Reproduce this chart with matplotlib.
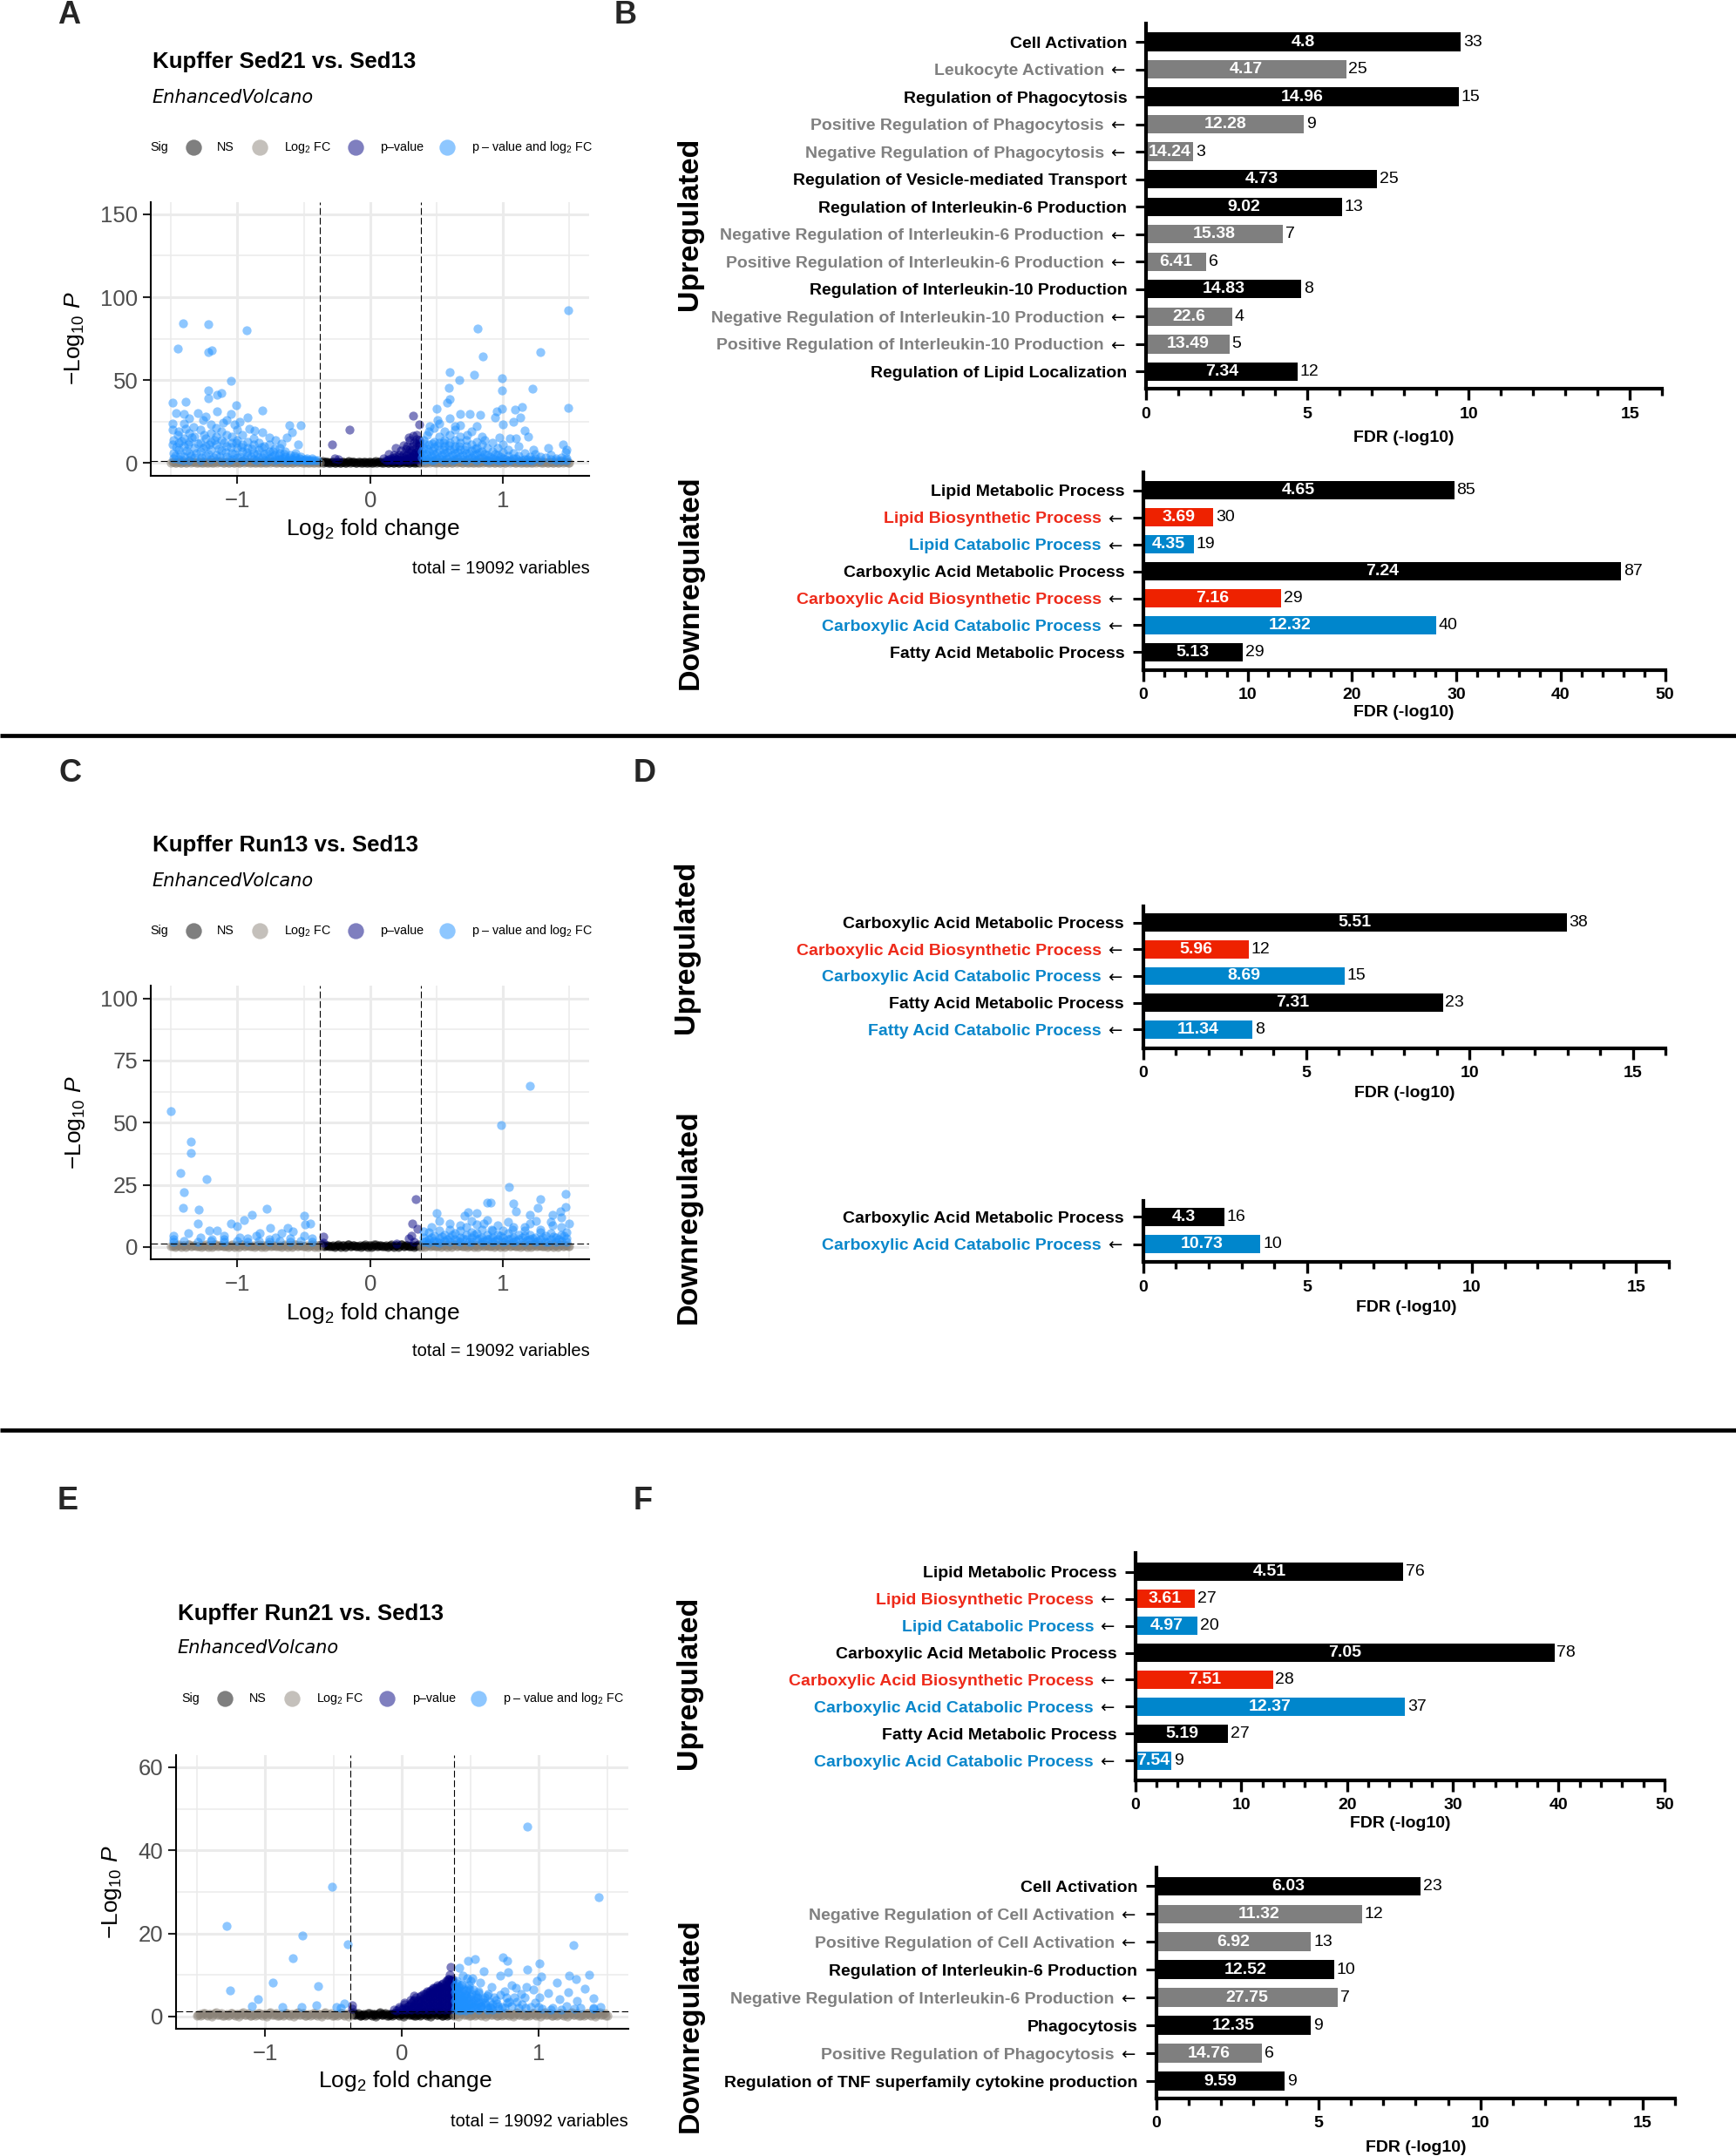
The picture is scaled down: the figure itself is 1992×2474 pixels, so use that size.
import numpy as np
import matplotlib
matplotlib.use("Agg")
import matplotlib.pyplot as plt
from matplotlib.ticker import MultipleLocator

plt.rcParams['font.family'] = ['Liberation Sans', 'DejaVu Sans']
plt.rcParams['mathtext.fontset'] = 'custom'
plt.rcParams['mathtext.rm'] = 'Liberation Sans'
plt.rcParams['mathtext.it'] = 'Liberation Sans:italic'
plt.rcParams['mathtext.bf'] = 'Liberation Sans:bold'

# ======================= GO enrichment bar data =======================
# bar length = FDR (-log10); inner label = fold enrichment; outer label = gene count
B_up_terms = ["Cell Activation", "Leukocyte Activation", "Regulation of Phagocytosis",
              "Positive Regulation of Phagocytosis", "Negative Regulation of Phagocytosis",
              "Regulation of Vesicle-mediated Transport", "Regulation of Interleukin-6 Production",
              "Negative Regulation of Interleukin-6 Production", "Positive Regulation of Interleukin-6 Production",
              "Regulation of Interleukin-10 Production", "Negative Regulation of Interleukin-10 Production",
              "Positive Regulation of Interleukin-10 Production", "Regulation of Lipid Localization"]
B_up_fdr = [9.76, 6.20, 9.70, 4.90, 1.47, 7.17, 6.07, 4.25, 1.86, 4.82, 2.68, 2.59, 4.69]
B_up_fold = ["4.8", "4.17", "14.96", "12.28", "14.24", "4.73", "9.02", "15.38", "6.41", "14.83", "22.6", "13.49", "7.34"]
B_up_genes = [33, 25, 15, 9, 3, 25, 13, 7, 6, 8, 4, 5, 12]
B_up_kind = ["parent", "child", "parent", "child", "child", "parent", "parent", "child", "child",
             "parent", "child", "child", "parent"]

B_dn_terms = ["Lipid Metabolic Process", "Lipid Biosynthetic Process", "Lipid Catabolic Process",
              "Carboxylic Acid Metabolic Process", "Carboxylic Acid Biosynthetic Process",
              "Carboxylic Acid Catabolic Process", "Fatty Acid Metabolic Process"]
B_dn_fdr = [29.8, 6.73, 4.87, 45.8, 13.2, 28.07, 9.53]
B_dn_fold = ["4.65", "3.69", "4.35", "7.24", "7.16", "12.32", "5.13"]
B_dn_genes = [85, 30, 19, 87, 29, 40, 29]
B_dn_kind = ["parent", "biosyn", "catab", "parent", "biosyn", "catab", "parent"]

D_up_terms = ["Carboxylic Acid Metabolic Process", "Carboxylic Acid Biosynthetic Process",
              "Carboxylic Acid Catabolic Process", "Fatty Acid Metabolic Process", "Fatty Acid Catabolic Process"]
D_up_fdr = [12.97, 3.23, 6.17, 9.18, 3.35]
D_up_fold = ["5.51", "5.96", "8.69", "7.31", "11.34"]
D_up_genes = [38, 12, 15, 23, 8]
D_up_kind = ["parent", "biosyn", "catab", "parent", "catab"]

D_dn_terms = ["Carboxylic Acid Metabolic Process", "Carboxylic Acid Catabolic Process"]
D_dn_fdr = [2.47, 3.57]
D_dn_fold = ["4.3", "10.73"]
D_dn_genes = [16, 10]
D_dn_kind = ["parent", "catab"]

F_up_terms = ["Lipid Metabolic Process", "Lipid Biosynthetic Process", "Lipid Catabolic Process",
              "Carboxylic Acid Metabolic Process", "Carboxylic Acid Biosynthetic Process",
              "Carboxylic Acid Catabolic Process", "Fatty Acid Metabolic Process",
              "Carboxylic Acid Catabolic Process"]
F_up_fdr = [25.3, 5.6, 5.86, 39.6, 13.0, 25.5, 8.75, 3.42]
F_up_fold = ["4.51", "3.61", "4.97", "7.05", "7.51", "12.37", "5.19", "7.54"]
F_up_genes = [76, 27, 20, 78, 28, 37, 27, 9]
F_up_kind = ["parent", "biosyn", "catab", "parent", "biosyn", "catab", "parent", "catab"]

F_dn_terms = ["Cell Activation", "Negative Regulation of Cell Activation", "Positive Regulation of Cell Activation",
              "Regulation of Interleukin-6 Production", "Negative Regulation of Interleukin-6 Production",
              "Phagocytosis", "Positive Regulation of Phagocytosis",
              "Regulation of TNF superfamily cytokine production"]
F_dn_fdr = [8.15, 6.34, 4.77, 5.48, 5.59, 4.77, 3.25, 3.96]
F_dn_fold = ["6.03", "11.32", "6.92", "12.52", "27.75", "12.35", "14.76", "9.59"]
F_dn_genes = [23, 12, 13, 10, 7, 9, 6, 9]
F_dn_kind = ["parent", "child", "child", "parent", "child", "parent", "child", "parent"]

BAR_COL = {"parent": "#000000", "child": "#7F7F7F", "biosyn": "#EE2200", "catab": "#0086CC"}
TXT_COL = {"parent": "#000000", "child": "#808080", "biosyn": "#EE2A1A", "catab": "#0A87CB"}

# ======================= volcano data (log2FC, -log10 P) =======================
fc_cut = 0.38
p_cut = 1.3
volcano_titles = ["Kupffer Sed21 vs. Sed13", "Kupffer Run13 vs. Sed13", "Kupffer Run21 vs. Sed13"]
caption = "total = 19092 variables"

# non-significant genes forming the band along the x axis (shared by the three comparisons)
band_x = [-1.50, -1.48, -1.46, -1.44, -1.42, -1.40, -1.38, -1.36, -1.34, -1.32, -1.30, -1.28, -1.26, -1.24,
          -1.22, -1.20, -1.18, -1.16, -1.14, -1.12, -1.10, -1.08, -1.06, -1.04, -1.02, -1.00, -0.98, -0.96,
          -0.94, -0.92, -0.90, -0.88, -0.86, -0.84, -0.82, -0.80, -0.78, -0.76, -0.74, -0.72, -0.70, -0.68,
          -0.66, -0.64, -0.62, -0.60, -0.58, -0.56, -0.54, -0.52, -0.50, -0.48, -0.46, -0.44, -0.42, -0.40,
          -0.38, -0.36, -0.34, -0.32, -0.30, -0.28, -0.26, -0.24, -0.22, -0.20, -0.18, -0.16, -0.14, -0.12,
          -0.10, -0.08, -0.06, -0.04, -0.02, 0.00, 0.02, 0.04, 0.06, 0.08, 0.10, 0.12, 0.14, 0.16, 0.18,
          0.20, 0.22, 0.24, 0.26, 0.28, 0.30, 0.32, 0.34, 0.36, 0.38, 0.40, 0.42, 0.44, 0.46, 0.48, 0.50,
          0.52, 0.54, 0.56, 0.58, 0.60, 0.62, 0.64, 0.66, 0.68, 0.70, 0.72, 0.74, 0.76, 0.78, 0.80, 0.82,
          0.84, 0.86, 0.88, 0.90, 0.92, 0.94, 0.96, 0.98, 1.00, 1.02, 1.04, 1.06, 1.08, 1.10, 1.12, 1.14,
          1.16, 1.18, 1.20, 1.22, 1.24, 1.26, 1.28, 1.30, 1.32, 1.34, 1.36, 1.38, 1.40, 1.42, 1.44, 1.46,
          1.48, 1.50,
          -1.49, -1.47, -1.45, -1.43, -1.41, -1.39, -1.37, -1.35, -1.33, -1.31, -1.29, -1.27, -1.25, -1.23,
          -1.21, -1.19, -1.17, -1.15, -1.13, -1.11, -1.09, -1.07, -1.05, -1.03, -1.01, -0.99, -0.97, -0.95,
          -0.93, -0.91, -0.89, -0.87, -0.85, -0.83, -0.81, -0.79, -0.77, -0.75, -0.73, -0.71, -0.69, -0.67,
          -0.65, -0.63, -0.61, -0.59, -0.57, -0.55, -0.53, -0.51, -0.49, -0.47, -0.45, -0.43, -0.41, -0.39,
          -0.37, -0.35, -0.33, -0.31, -0.29, -0.27, -0.25, -0.23, -0.21, -0.19, -0.17, -0.15, -0.13, -0.11,
          -0.09, -0.07, -0.05, -0.03, -0.01, 0.01, 0.03, 0.05, 0.07, 0.09, 0.11, 0.13, 0.15, 0.17, 0.19,
          0.21, 0.23, 0.25, 0.27, 0.29, 0.31, 0.33, 0.35, 0.37, 0.39, 0.41, 0.43, 0.45, 0.47, 0.49, 0.51,
          0.53, 0.55, 0.57, 0.59, 0.61, 0.63, 0.65, 0.67, 0.69, 0.71, 0.73, 0.75, 0.77, 0.79, 0.81, 0.83,
          0.85, 0.87, 0.89, 0.91, 0.93, 0.95, 0.97, 0.99, 1.01, 1.03, 1.05, 1.07, 1.09, 1.11, 1.13, 1.15,
          1.17, 1.19, 1.21, 1.23, 1.25, 1.27, 1.29, 1.31, 1.33, 1.35, 1.37, 1.39, 1.41, 1.43, 1.45, 1.47,
          1.49]
band_y = [0.2, 0.7, 0.4, 0.9, 0.1, 0.6, 0.3, 1.0, 0.5, 0.8, 0.2, 0.6, 0.4, 0.9, 0.1, 0.7, 0.3, 1.0, 0.5,
          0.8, 0.2, 0.7, 0.4, 0.9, 0.1, 0.6, 0.3, 1.0, 0.5, 0.8, 0.2, 0.6, 0.4, 0.9, 0.1, 0.7, 0.3, 1.0,
          0.5, 0.8, 0.2, 0.7, 0.4, 0.9, 0.1, 0.6, 0.3, 1.0, 0.5, 0.8, 0.2, 0.6, 0.4, 0.9, 0.1, 0.7, 0.3,
          1.0, 0.5, 0.8, 0.2, 0.7, 0.4, 0.9, 0.1, 0.6, 0.3, 1.0, 0.5, 0.8, 0.2, 0.6, 0.4, 0.9, 0.1, 0.7,
          0.3, 1.0, 0.5, 0.8, 0.2, 0.7, 0.4, 0.9, 0.1, 0.6, 0.3, 1.0, 0.5, 0.8, 0.2, 0.6, 0.4, 0.9, 0.1,
          0.7, 0.3, 1.0, 0.5, 0.8, 0.2, 0.7, 0.4, 0.9, 0.1, 0.6, 0.3, 1.0, 0.5, 0.8, 0.2, 0.6, 0.4, 0.9,
          0.1, 0.7, 0.3, 1.0, 0.5, 0.8, 0.2, 0.7, 0.4, 0.9, 0.1, 0.6, 0.3, 1.0, 0.5, 0.8, 0.2, 0.6, 0.4,
          0.9, 0.1, 0.7, 0.3, 1.0, 0.5, 0.8, 0.2, 0.7, 0.4, 0.9, 0.1, 0.6, 0.3, 1.0, 0.5, 0.8, 0.2,
          0.5, 0.1, 0.8, 0.3, 0.6, 0.0, 0.9, 0.4, 0.7, 0.2, 0.5, 0.1, 0.8, 0.3, 0.6, 0.0, 0.9, 0.4, 0.7,
          0.2, 0.5, 0.1, 0.8, 0.3, 0.6, 0.0, 0.9, 0.4, 0.7, 0.2, 0.5, 0.1, 0.8, 0.3, 0.6, 0.0, 0.9, 0.4,
          0.7, 0.2, 0.5, 0.1, 0.8, 0.3, 0.6, 0.0, 0.9, 0.4, 0.7, 0.2, 0.5, 0.1, 0.8, 0.3, 0.6, 0.0, 0.9,
          0.4, 0.7, 0.2, 0.5, 0.1, 0.8, 0.3, 0.6, 0.0, 0.9, 0.4, 0.7, 0.2, 0.5, 0.1, 0.8, 0.3, 0.6, 0.0,
          0.9, 0.4, 0.7, 0.2, 0.5, 0.1, 0.8, 0.3, 0.6, 0.0, 0.9, 0.4, 0.7, 0.2, 0.5, 0.1, 0.8, 0.3, 0.6,
          0.0, 0.9, 0.4, 0.7, 0.2, 0.5, 0.1, 0.8, 0.3, 0.6, 0.0, 0.9, 0.4, 0.7, 0.2, 0.5, 0.1, 0.8, 0.3,
          0.6, 0.0, 0.9, 0.4, 0.7, 0.2, 0.5, 0.1, 0.8, 0.3, 0.6, 0.0, 0.9, 0.4, 0.7, 0.2, 0.5, 0.1, 0.8,
          0.3, 0.6, 0.0, 0.9, 0.4, 0.7, 0.2, 0.5, 0.1, 0.8, 0.3, 0.6, 0.0, 0.9, 0.4, 0.7, 0.2]

A_pts = [
    (-1.41, 84.3), (-1.22, 83.6), (-0.93, 80.3), (-1.45, 69.2), (-1.22, 66.7), (-1.19, 68.1), (-1.05, 49.6),
    (-1.22, 44.0), (-1.22, 38.9), (-1.15, 41.4), (-1.12, 42.1), (-1.49, 36.6), (-1.39, 36.8), (-1.46, 29.9),
    (-1.40, 29.4), (-1.30, 30.3), (-1.01, 35.0), (-0.81, 31.5), (-1.15, 31.2), (-1.05, 29.4), (-0.92, 27.3),
    (-0.61, 22.7), (-0.52, 22.7), (-0.59, 18.8), (-0.63, 15.3), (-0.54, 11.4), (-1.49, 23.8), (-1.49, 20.1),
    (-1.45, 17.1), (-1.49, 11.0), (-1.39, 20.6), (-1.33, 21.5), (-1.26, 25.9), (-1.20, 23.2), (-1.11, 24.1),
    (-1.02, 23.2), (-0.98, 25.0), (-0.91, 20.6), (-0.87, 19.7), (-0.81, 18.8), (-0.76, 15.3), (-0.71, 13.6),
    (-0.67, 11.8),
    (-1.48, 3.0), (-1.48, 6.0), (-1.48, 14.0), (-1.44, 2.5), (-1.44, 8.0), (-1.44, 12.0), (-1.44, 19.0),
    (-1.40, 4.0), (-1.40, 10.0), (-1.40, 15.0), (-1.40, 24.0), (-1.36, 2.0), (-1.36, 6.0), (-1.36, 13.0),
    (-1.36, 18.0), (-1.36, 27.0), (-1.32, 3.5), (-1.32, 9.0), (-1.32, 16.0), (-1.28, 2.0), (-1.28, 7.0),
    (-1.28, 12.0), (-1.28, 20.0), (-1.24, 4.5), (-1.24, 10.0), (-1.24, 15.0), (-1.24, 28.0), (-1.20, 2.5),
    (-1.20, 8.0), (-1.20, 13.0), (-1.20, 18.0), (-1.16, 5.0), (-1.16, 11.0), (-1.16, 16.0), (-1.16, 21.0),
    (-1.12, 2.0), (-1.12, 7.5), (-1.12, 14.0), (-1.12, 19.0), (-1.08, 4.0), (-1.08, 10.0), (-1.08, 17.0),
    (-1.08, 26.0), (-1.04, 2.5), (-1.04, 6.0), (-1.04, 12.0), (-1.04, 16.0), (-1.00, 3.5), (-1.00, 9.0),
    (-1.00, 14.0), (-1.00, 20.0), (-0.96, 2.0), (-0.96, 7.0), (-0.96, 11.0), (-0.96, 17.0), (-0.92, 4.5),
    (-0.92, 9.0), (-0.92, 13.0), (-0.88, 2.5), (-0.88, 6.0), (-0.88, 11.0), (-0.88, 15.0), (-0.84, 3.5),
    (-0.84, 8.0), (-0.84, 12.0), (-0.80, 2.0), (-0.80, 5.5), (-0.80, 10.0), (-0.76, 3.0), (-0.76, 7.0),
    (-0.76, 11.0), (-0.72, 2.0), (-0.72, 5.0), (-0.72, 8.5), (-0.68, 2.5), (-0.68, 6.0), (-0.68, 9.0),
    (-0.64, 2.0), (-0.64, 4.0), (-0.64, 7.0), (-0.60, 2.5), (-0.60, 5.0), (-0.56, 2.0), (-0.56, 3.5),
    (-0.56, 6.0), (-0.52, 2.2), (-0.52, 4.0), (-0.48, 1.8), (-0.48, 3.0), (-0.44, 2.0), (-0.44, 2.8),
    (-0.40, 1.6),
    (-1.47, 4.5), (-1.46, 9.5), (-1.43, 5.5), (-1.42, 13.5), (-1.41, 2.0), (-1.38, 7.5), (-1.37, 11.0),
    (-1.35, 4.5), (-1.34, 15.5), (-1.31, 6.0), (-1.30, 11.5), (-1.27, 3.5), (-1.26, 9.0), (-1.25, 17.0),
    (-1.22, 5.5), (-1.21, 11.0), (-1.18, 3.5), (-1.17, 14.0), (-1.14, 8.5), (-1.13, 4.0), (-1.10, 12.0),
    (-1.09, 6.5), (-1.06, 2.0), (-1.05, 9.5), (-1.02, 5.5), (-1.01, 12.5), (-0.98, 4.0), (-0.97, 9.5),
    (-0.94, 2.5), (-0.93, 6.5), (-0.90, 4.0), (-0.89, 8.5), (-0.86, 2.0), (-0.85, 5.5), (-0.82, 9.5),
    (-0.81, 3.5), (-0.78, 6.0), (-0.77, 2.0), (-0.74, 4.0), (-0.73, 7.0), (-0.70, 2.5), (-0.69, 4.5),
    (-0.66, 3.0), (-0.65, 5.5), (-0.62, 2.0), (-0.61, 3.5), (-0.58, 2.5), (-0.57, 4.5), (-0.54, 2.0),
    (-0.53, 3.0), (-0.50, 1.8), (-0.49, 2.5), (-0.46, 1.6), (-0.42, 1.8),
    (0.81, 81.0), (0.85, 64.3), (1.28, 66.9), (1.49, 92.4), (0.60, 54.9), (0.67, 50.0), (0.78, 53.3),
    (0.99, 51.4), (0.99, 43.8), (1.22, 44.9), (0.59, 45.2), (0.60, 38.6), (0.58, 36.4), (1.49, 33.3),
    (0.50, 32.9), (0.68, 29.8), (0.75, 29.4), (0.83, 29.0), (0.95, 31.2), (0.99, 32.6), (1.09, 32.4),
    (1.14, 33.8), (1.13, 27.3), (1.08, 25.0), (1.00, 23.2), (0.94, 27.3), (1.16, 19.7), (1.19, 15.7),
    (1.45, 11.4), (1.47, 6.5), (1.34, 9.2), (1.23, 8.3), (0.97, 15.3), (1.05, 15.0), (1.10, 15.0),
    (0.86, 13.6), (0.73, 17.1), (0.64, 22.4), (0.51, 25.9), (0.45, 22.4), (0.43, 17.1),
    (0.40, 2.0), (0.40, 5.0), (0.40, 9.0), (0.40, 14.0), (0.44, 3.0), (0.44, 7.0), (0.44, 11.0), (0.44, 19.0),
    (0.48, 2.0), (0.48, 5.5), (0.48, 9.5), (0.48, 13.0), (0.48, 21.0), (0.52, 3.5), (0.52, 8.0), (0.52, 12.0),
    (0.52, 16.0), (0.52, 24.0), (0.56, 2.0), (0.56, 6.0), (0.56, 10.0), (0.56, 14.0), (0.56, 19.0),
    (0.60, 4.0), (0.60, 8.0), (0.60, 12.0), (0.60, 17.0), (0.60, 27.0), (0.64, 2.5), (0.64, 6.0),
    (0.64, 10.0), (0.64, 14.0), (0.64, 20.0), (0.68, 4.0), (0.68, 8.0), (0.68, 12.0), (0.68, 16.0),
    (0.68, 23.0), (0.72, 2.0), (0.72, 6.0), (0.72, 10.0), (0.72, 14.0), (0.76, 3.5), (0.76, 7.5),
    (0.76, 11.0), (0.76, 19.0), (0.80, 2.0), (0.80, 5.5), (0.80, 9.0), (0.80, 13.0), (0.80, 22.0),
    (0.84, 3.5), (0.84, 7.0), (0.84, 11.0), (0.84, 16.0), (0.88, 2.0), (0.88, 5.0), (0.88, 9.0),
    (0.92, 3.0), (0.92, 7.0), (0.92, 12.0), (0.96, 2.0), (0.96, 5.0), (0.96, 9.0), (1.00, 3.0),
    (1.00, 6.5), (1.00, 11.0), (1.04, 2.0), (1.04, 4.5), (1.04, 8.0), (1.08, 3.0), (1.08, 6.0),
    (1.12, 2.0), (1.12, 4.5), (1.12, 10.0), (1.16, 2.5), (1.16, 6.0), (1.20, 2.0), (1.20, 4.0),
    (1.24, 3.0), (1.24, 5.5), (1.28, 2.0), (1.28, 4.0), (1.32, 3.5), (1.36, 2.2), (1.36, 5.0),
    (1.40, 1.8), (1.40, 3.0), (1.44, 2.0), (1.44, 3.5), (1.48, 1.8), (1.48, 3.0), (1.48, 8.0),
    (0.39, 3.5), (0.39, 7.0), (0.41, 11.5), (0.42, 2.5), (0.42, 5.5), (0.43, 8.5), (0.46, 2.0), (0.46, 4.5),
    (0.47, 7.5), (0.47, 11.5), (0.50, 3.0), (0.50, 6.0), (0.51, 10.5), (0.54, 2.5), (0.54, 5.0), (0.55, 8.0),
    (0.55, 12.5), (0.58, 3.0), (0.58, 6.5), (0.59, 10.5), (0.62, 2.0), (0.62, 5.0), (0.63, 8.5), (0.66, 3.0),
    (0.66, 6.5), (0.67, 10.0), (0.70, 2.5), (0.70, 5.0), (0.71, 8.0), (0.74, 3.0), (0.74, 6.0), (0.78, 2.5),
    (0.78, 5.0), (0.79, 8.5), (0.82, 3.0), (0.82, 6.5), (0.86, 2.5), (0.86, 5.5), (0.90, 2.0), (0.90, 4.0),
    (0.94, 2.5), (0.94, 5.5), (0.98, 2.0), (0.98, 4.0), (1.02, 2.5), (1.06, 2.0), (1.10, 3.0), (1.14, 2.0),
    (1.18, 2.5), (1.22, 2.0),
    (0.32, 28.5), (0.37, 23.2), (-0.155, 20.1), (-0.29, 11.3), (0.29, 15.3), (0.35, 17.1), (0.30, 13.6),
    (0.25, 10.9), (0.195, 9.2), (0.14, 5.6), (0.23, 7.4), (0.315, 10.0), (0.35, 11.8), (0.36, 8.3),
    (0.29, 6.5), (0.33, 4.8), (0.18, 4.8), (-0.265, 3.0), (-0.24, 2.1), (0.10, 3.0), (0.12, 2.0),
    (0.20, 2.5), (0.26, 3.5), (0.30, 2.0), (0.36, 3.0), (0.34, 6.5), (0.22, 5.0), (0.27, 8.5),
    (0.16, 2.0), (0.20, 3.8), (0.24, 2.0), (0.25, 5.5), (0.28, 3.0), (0.28, 10.0), (0.31, 4.0), (0.31, 7.5),
    (0.33, 12.5), (0.34, 2.5), (0.35, 5.0), (0.37, 6.0), (0.37, 10.5), (0.37, 14.0), (0.32, 16.5),
    (0.22, 2.0), (0.14, 2.2), (0.18, 3.2),
    (0.36, 1.8), (0.36, 4.2), (0.36, 7.0), (0.34, 3.5), (0.34, 9.0), (0.32, 2.2), (0.32, 5.5), (0.30, 3.3),
    (0.30, 8.2), (0.28, 1.8), (0.28, 5.0), (0.26, 2.3), (0.24, 3.6), (0.22, 1.8), (0.20, 2.2), (0.18, 1.8),
    (0.16, 3.0), (0.13, 1.8), (0.37, 12.2), (0.35, 14.5)]

C_pts = [
    (-1.50, 54.7), (-1.35, 42.4), (-1.35, 37.7), (-1.43, 29.9), (-1.23, 27.4), (-1.40, 21.9), (-1.41, 15.7),
    (-1.29, 15.1), (-1.30, 9.3), (-1.48, 4.7), (-1.37, 5.5), (-1.28, 3.9), (-0.89, 12.8), (-0.78, 15.3),
    (-0.50, 12.5), (-0.95, 10.7), (-1.05, 9.6), (-1.00, 8.4), (-1.15, 6.7), (-1.21, 6.8), (-0.49, 9.1),
    (-0.45, 9.3), (-0.62, 7.6), (-0.75, 7.6), (-0.58, 6.3), (-0.67, 5.5), (-0.83, 5.5), (-0.86, 4.4),
    (-0.98, 3.9), (-1.10, 4.4), (-1.19, 3.1), (-0.50, 4.7), (-0.44, 3.4), (-0.71, 3.9), (-1.48, 2.0),
    (-1.48, 3.0), (-1.40, 2.5), (-1.30, 2.0), (-1.20, 2.5), (-1.10, 2.0), (-1.10, 3.0), (-1.00, 2.5),
    (-0.92, 2.0), (-0.92, 3.5), (-0.84, 2.5), (-0.76, 2.0), (-0.76, 3.0), (-0.68, 2.5), (-0.60, 2.0),
    (-0.60, 3.5), (-0.52, 2.5), (-0.44, 2.0),
    (1.20, 64.8), (0.985, 49.0), (1.045, 24.0), (1.47, 21.3), (1.28, 19.2), (1.075, 17.5), (0.88, 18.0),
    (0.91, 18.0), (1.47, 16.2), (1.26, 15.7), (0.50, 13.6), (0.735, 14.1), (0.80, 13.8), (0.71, 12.5),
    (1.10, 14.4), (1.20, 12.8), (1.37, 12.8), (1.44, 12.0), (1.497, 9.3), (1.43, 14.4), (1.25, 10.6),
    (1.04, 10.1), (0.96, 8.8), (0.915, 7.1), (0.855, 9.6), (0.765, 10.6), (0.675, 8.8), (0.60, 9.6),
    (0.52, 10.6), (0.46, 8.0), (0.40, 6.3), (1.37, 8.8), (1.28, 7.1), (1.16, 8.0), (1.07, 7.1),
    (0.40, 2.0), (0.40, 4.0), (0.44, 1.8), (0.44, 3.2), (0.44, 6.0), (0.48, 2.5), (0.48, 4.5), (0.52, 1.8),
    (0.52, 3.5), (0.52, 6.5), (0.56, 2.5), (0.56, 5.0), (0.60, 2.0), (0.60, 4.0), (0.60, 7.0), (0.64, 3.0),
    (0.64, 5.5), (0.68, 2.0), (0.68, 4.0), (0.68, 6.5), (0.72, 3.0), (0.72, 5.0), (0.72, 8.0), (0.76, 2.0),
    (0.76, 4.0), (0.76, 6.0), (0.80, 3.0), (0.80, 5.5), (0.80, 9.0), (0.84, 2.0), (0.84, 4.0), (0.84, 7.0),
    (0.88, 3.0), (0.88, 5.0), (0.88, 11.0), (0.92, 2.0), (0.92, 4.0), (0.92, 6.5), (0.96, 3.0), (0.96, 5.0),
    (1.00, 2.0), (1.00, 4.0), (1.00, 6.5), (1.04, 3.0), (1.04, 5.5), (1.08, 2.0), (1.08, 4.0), (1.08, 8.0),
    (1.12, 3.0), (1.12, 5.0), (1.16, 2.0), (1.16, 4.5), (1.16, 6.5), (1.20, 3.0), (1.20, 5.0), (1.20, 9.5),
    (1.24, 2.0), (1.24, 4.0), (1.28, 3.0), (1.28, 6.0), (1.32, 2.0), (1.32, 4.5), (1.36, 3.0), (1.36, 5.5),
    (1.36, 10.0), (1.40, 2.0), (1.40, 4.0), (1.44, 2.5), (1.44, 5.0), (1.44, 8.0), (1.48, 2.0), (1.48, 3.5),
    (1.48, 6.0), (0.42, 2.6), (0.46, 3.8), (0.50, 2.2), (0.54, 4.2), (0.58, 3.0), (0.62, 5.0), (0.66, 2.4),
    (0.70, 3.6), (0.74, 2.2), (0.78, 5.0), (0.82, 3.4), (0.86, 2.4), (0.90, 3.6), (0.94, 2.6), (0.98, 4.6),
    (1.02, 2.4), (1.06, 3.6), (1.10, 2.4), (1.14, 3.8), (1.18, 2.8), (1.22, 3.4), (1.26, 2.6), (1.30, 3.8),
    (1.34, 2.2), (1.38, 4.2), (1.42, 3.0), (1.46, 4.4),
    (0.343, 19.2), (0.319, 9.3), (0.358, 7.5), (0.313, 4.4), (0.29, 3.4), (-0.355, 4.2), (-0.35, 1.8),
    (0.20, 1.5), (0.33, 2.0)]

E_pts = [
    (-1.281, 21.8), (-1.257, 6.3), (-0.725, 19.4), (-0.80, 14.1), (-0.508, 31.3), (-0.394, 17.3),
    (-0.941, 8.2), (-0.61, 7.3), (-1.053, 4.1), (-1.095, 2.5), (-0.872, 2.2), (-0.731, 2.2), (-0.626, 2.7),
    (-0.481, 2.2), (-0.421, 3.1), (-0.45, 2.0),
    (0.917, 45.8), (1.434, 28.7), (1.25, 17.2), (0.734, 14.2), (0.766, 13.5), (0.479, 13.5), (0.53, 13.75),
    (1.003, 12.8), (0.914, 11.3), (0.598, 10.8), (0.42, 11.8), (0.774, 10.6), (0.717, 9.9), (1.22, 9.9),
    (1.368, 10.0), (1.014, 9.6), (1.268, 8.9), (1.13, 8.2), (0.982, 8.5), (0.473, 9.2), (0.441, 9.9),
    (0.515, 9.2), (0.568, 8.2), (0.653, 7.2), (0.80, 7.5), (0.833, 6.8), (0.908, 7.2), (0.96, 6.5),
    (1.332, 6.7), (1.067, 5.6), (1.213, 5.8), (1.397, 4.4), (1.151, 4.2), (1.28, 3.8), (1.395, 1.8),
    (1.162, 1.6), (1.257, 1.8), (1.088, 1.6), (1.025, 1.8), (0.94, 2.3), (0.876, 3.0), (0.77, 3.3),
    (0.685, 4.0), (0.621, 5.1), (0.558, 6.1), (0.494, 6.5), (0.43, 7.5), (0.398, 8.5), (0.409, 5.4),
    (0.452, 4.0), (0.515, 3.3), (0.579, 2.6), (0.643, 2.3), (0.706, 1.9), (0.398, 3.3), (0.409, 2.3),
    (0.473, 4.7), (0.536, 4.7), (0.60, 3.3), (0.759, 4.7), (0.82, 4.7), (0.748, 6.1), (1.003, 4.7),
    (0.97, 3.3), (0.893, 4.7), (0.39, 2.0), (0.39, 4.0), (0.39, 6.0), (0.41, 3.0), (0.41, 7.0), (0.43, 2.0),
    (0.43, 5.0), (0.45, 3.5), (0.45, 6.5), (0.47, 2.0), (0.47, 5.0), (0.49, 3.0), (0.49, 7.5), (0.51, 2.0),
    (0.51, 5.5), (0.53, 3.0), (0.55, 2.0), (0.55, 4.5), (0.58, 3.5), (0.62, 2.0), (0.66, 3.0), (0.70, 2.5),
    (0.75, 2.0), (0.80, 2.5), (0.85, 2.0), (0.90, 2.0), (1.00, 2.2), (1.10, 2.0), (1.20, 2.5), (1.30, 2.0),
    (1.40, 2.0), (1.45, 2.2),
    (0.39, 2.8), (0.39, 5.0), (0.39, 7.0), (0.40, 8.0), (0.41, 2.2), (0.41, 4.3), (0.42, 6.0), (0.43, 3.3),
    (0.44, 7.8), (0.44, 1.7), (0.45, 4.8), (0.46, 2.6), (0.47, 6.2), (0.48, 3.8), (0.49, 1.8), (0.50, 4.8),
    (0.50, 8.5), (0.52, 2.6), (0.52, 6.5), (0.54, 3.8), (0.56, 5.6), (0.57, 2.3), (0.59, 4.2), (0.61, 3.0),
    (0.63, 5.5), (0.65, 2.0), (0.67, 4.5), (0.69, 3.2), (0.72, 5.2), (0.73, 2.2), (0.78, 3.6), (0.84, 3.6),
    (0.87, 5.4),
    (0.385, 1.6), (0.385, 3.8), (0.385, 5.8), (0.385, 7.6), (0.40, 2.5), (0.40, 4.6), (0.40, 6.6), (0.42, 1.5),
    (0.42, 3.6), (0.42, 5.2), (0.42, 7.2), (0.44, 2.8), (0.44, 4.2), (0.44, 6.0), (0.46, 1.5), (0.46, 3.2),
    (0.46, 5.5), (0.48, 2.2), (0.48, 4.4), (0.48, 6.6), (0.50, 1.6), (0.50, 3.2), (0.52, 4.0), (0.54, 2.2),
    (0.54, 5.2), (0.56, 1.6), (0.56, 3.4), (0.58, 2.4), (0.60, 4.6), (0.62, 1.6), (0.64, 3.6), (0.66, 1.7),
    (0.356, 11.9), (0.335, 8.9), (-0.364, 2.8), (-0.367, 1.8), (0.085, 5.1), (0.017, 3.3),
    (-0.06, 1.7), (-0.02, 1.8), (-0.02, 2.2), (0.02, 1.8), (0.02, 3.0), (0.06, 1.8), (0.06, 3.0), (0.06, 4.0),
    (0.10, 2.0), (0.10, 3.2), (0.10, 4.5), (0.14, 2.0), (0.14, 3.5), (0.14, 5.0), (0.18, 2.0), (0.18, 3.5),
    (0.18, 5.0), (0.18, 6.0), (0.22, 2.0), (0.22, 3.5), (0.22, 5.0), (0.22, 6.5), (0.26, 2.0), (0.26, 3.5),
    (0.26, 5.0), (0.26, 6.5), (0.26, 7.5), (0.30, 2.0), (0.30, 3.5), (0.30, 5.0), (0.30, 6.5), (0.30, 8.0),
    (0.34, 2.0), (0.34, 3.5), (0.34, 5.0), (0.34, 6.5), (0.34, 8.0), (0.34, 9.0), (0.37, 2.0), (0.37, 3.5),
    (0.37, 5.0), (0.37, 6.5), (0.37, 8.0), (0.37, 9.0),
    (0.00, 1.6), (0.04, 2.4), (0.08, 2.5), (0.08, 3.8), (0.12, 2.6), (0.12, 4.0), (0.16, 2.7), (0.16, 4.2),
    (0.16, 5.5), (0.20, 2.8), (0.20, 4.3), (0.20, 5.8), (0.24, 2.8), (0.24, 4.3), (0.24, 5.8), (0.24, 7.0),
    (0.28, 2.8), (0.28, 4.3), (0.28, 5.8), (0.28, 7.2), (0.32, 2.8), (0.32, 4.3), (0.32, 5.8), (0.32, 7.3),
    (0.32, 8.5), (0.36, 2.8), (0.36, 4.3), (0.36, 5.8), (0.36, 7.3), (0.36, 8.6), (-0.04, 1.5), (0.35, 10.0),
    (0.01, 2.0), (0.03, 1.6), (0.05, 2.6), (0.07, 1.7), (0.07, 3.4), (0.09, 2.2), (0.09, 4.0), (0.11, 1.6),
    (0.11, 3.0), (0.13, 2.3), (0.13, 3.8), (0.13, 4.8), (0.15, 1.6), (0.15, 3.0), (0.15, 4.4), (0.17, 2.4),
    (0.17, 3.9), (0.17, 5.4), (0.19, 1.6), (0.19, 3.1), (0.19, 4.6), (0.19, 5.9), (0.21, 2.4), (0.21, 3.9),
    (0.21, 5.4), (0.21, 6.3), (0.23, 1.6), (0.23, 3.1), (0.23, 4.6), (0.23, 6.0), (0.23, 6.8), (0.25, 2.4),
    (0.25, 3.9), (0.25, 5.4), (0.25, 6.8), (0.27, 1.6), (0.27, 3.1), (0.27, 4.6), (0.27, 6.1), (0.27, 7.4),
    (0.29, 2.4), (0.29, 3.9), (0.29, 5.4), (0.29, 6.9), (0.29, 7.8), (0.31, 1.6), (0.31, 3.1), (0.31, 4.6),
    (0.31, 6.1), (0.31, 7.6), (0.33, 2.4), (0.33, 3.9), (0.33, 5.4), (0.33, 6.9), (0.33, 8.3), (0.35, 1.6),
    (0.35, 3.1), (0.35, 4.6), (0.35, 6.1), (0.35, 7.6), (0.35, 8.8), (0.37, 2.6), (0.37, 4.2), (0.37, 5.8),
    (0.37, 7.3), (0.37, 8.6),
    (-0.10, 0.6), (-0.05, 0.8), (0.00, 0.9), (0.05, 1.0), (0.10, 1.1), (0.15, 1.1), (0.20, 1.2), (0.25, 1.2),
    (0.30, 1.2), (0.35, 1.2), (0.37, 1.1), (-0.36, 0.7), (-0.30, 0.5), (-0.20, 0.5), (-0.15, 0.55),
    (-0.08, 0.7), (-0.02, 0.9), (0.02, 1.0), (0.04, 0.8), (0.07, 1.1), (0.12, 1.0), (0.17, 1.2), (0.22, 1.1),
    (0.27, 1.2), (0.32, 1.1), (0.36, 1.2), (0.28, 0.6), (0.18, 0.6), (0.08, 0.5)]

# ======================= layout helpers =======================
W_REF, H_REF = 1263.0, 1568.0
fig = plt.figure(figsize=(19.92, 24.74), dpi=100)
fig.patch.set_facecolor("white")

ov = fig.add_axes([0, 0, 1, 1])
ov.set_xlim(0, W_REF)
ov.set_ylim(H_REF, 0)
ov.axis("off")
ov.set_zorder(10)


def add_rect(l, r, t, b):
    return fig.add_axes([l / W_REF, 1 - b / H_REF, (r - l) / W_REF, (b - t) / H_REF])


CAT_COLORS = ["black", "#8B8378", "#000080", "#1E90FF"]
LEG_LABELS = ["NS", "Log$_2$ FC", "p\u2013value", "p \u2013 value and log$_2$ FC"]
LEG_CIRC = [31.3, 80.0, 149.6, 215.9]
LEG_TEXT = [48.8, 97.7, 167.5, 233.7]


def volcano(pts, box, ylim, ymajor, yminor, title, title_y, sub_y, leg_x0, leg_y, xlab_y, cap_y, ylab_x):
    l, r, t, b = box
    ax = add_rect(l, r, t, b)
    nb = min(len(band_x), len(band_y))
    x = np.array(band_x[:nb] + [p[0] for p in pts])
    y = np.array(band_y[:nb] + [p[1] for p in pts])
    big = np.abs(x) >= fc_cut
    sig = y >= p_cut
    masks = [~big & ~sig, big & ~sig, ~big & sig, big & sig]
    for m, c in zip(masks, CAT_COLORS):
        ax.scatter(x[m], y[m], s=55, color=c, alpha=0.5, linewidths=0, zorder=3)
    for xv in (-fc_cut, fc_cut):
        ax.axvline(xv, color="black", lw=0.8, dashes=(7, 3), zorder=4)
    ax.axhline(p_cut, color="black", lw=0.8, dashes=(7, 3), zorder=4)
    ax.set_xlim(-1.65, 1.65)
    ax.set_ylim(*ylim)
    ax.set_xticks([-1, 0, 1])
    ax.set_xticks([-1.5, -0.5, 0.5, 1.5], minor=True)
    ax.set_yticks(ymajor)
    ax.set_yticks(yminor, minor=True)
    ax.grid(which="major", color="#EBEBEB", lw=2.2)
    ax.grid(which="minor", color="#EBEBEB", lw=1.1)
    ax.set_axisbelow(True)
    ax.tick_params(which="major", length=6.3, width=1.5, color="#222222", labelsize=18.5,
                   labelcolor="#4D4D4D")
    ax.tick_params(axis="x", which="major", pad=6)
    ax.tick_params(axis="y", which="major", pad=4.3)
    ax.tick_params(which="minor", length=0)
    for s in ("top", "right"):
        ax.spines[s].set_visible(False)
    for s in ("left", "bottom"):
        ax.spines[s].set_linewidth(1.5)
    ov.text(l + 1, title_y, title, fontsize=18.6, fontweight="bold", ha="left", va="center")
    ov.text(l + 1, sub_y, "EnhancedVolcano", fontsize=15, style="italic", family="DejaVu Sans",
            ha="left", va="center")
    ov.text(leg_x0, leg_y, "Sig", fontsize=10.3, ha="left", va="center")
    for c, cx, tx, lab in zip(CAT_COLORS, LEG_CIRC, LEG_TEXT, LEG_LABELS):
        ov.scatter([leg_x0 + cx], [leg_y], s=175, color=c, alpha=0.5, linewidths=0)
        ov.text(leg_x0 + tx, leg_y, lab, fontsize=10.3, ha="left", va="center")
    ov.text((l + r) / 2 + 2, xlab_y, "Log$_2$ fold change", fontsize=19, ha="center", va="center")
    ov.text(ylab_x, (t + b) / 2, r"$-\mathrm{Log}_{10}\ \mathit{P}$", fontsize=19, rotation=90,
            ha="center", va="center")
    ov.text(r, cap_y, caption, fontsize=14.5, ha="right", va="center")
    return ax


def bar_panel(box, first, last, terms, lens, folds, genes, kinds, xmax, major, minor_step, fdr_y):
    l, r, t, b = box
    n = len(terms)
    step = (last - first) / (n - 1)
    ax = add_rect(l, r, t, b)
    ax.patch.set_alpha(0)
    pos = np.arange(n)
    ax.barh(pos, lens, height=0.68, color=[BAR_COL[k] for k in kinds], edgecolor="none", zorder=2)
    for i in range(n):
        ax.text(lens[i] / 2, pos[i], folds[i], color="white", fontsize=14, fontweight="bold",
                ha="center", va="center", zorder=3)
        ax.annotate(str(genes[i]), (lens[i], pos[i]), xytext=(2, 0), textcoords="offset points",
                    ha="left", va="center", fontsize=14, annotation_clip=False)
        if kinds[i] == "parent":
            ax.annotate(terms[i], (0, pos[i]), xycoords=("axes fraction", "data"), xytext=(-15.5, 0),
                        textcoords="offset points", ha="right", va="center_baseline", fontsize=14,
                        fontweight="bold", color=TXT_COL[kinds[i]], annotation_clip=False)
        else:
            ax.annotate(terms[i], (0, pos[i]), xycoords=("axes fraction", "data"), xytext=(-34.5, 0),
                        textcoords="offset points", ha="right", va="center_baseline", fontsize=14,
                        fontweight="bold", color=TXT_COL[kinds[i]], annotation_clip=False)
            ax.annotate("\u2190", (0, pos[i]), xycoords=("axes fraction", "data"), xytext=(-17.5, 0),
                        textcoords="offset points", ha="right", va="center_baseline", fontsize=14,
                        family="DejaVu Sans", color="black", annotation_clip=False)
    ax.set_xlim(0, xmax)
    ax.set_ylim((n - 1) + (b - last) / step, -(first - t) / step)
    ax.set_yticks(pos)
    ax.set_yticklabels([])
    ax.set_xticks(major)
    ax.xaxis.set_minor_locator(MultipleLocator(minor_step))
    for lab in ax.get_xticklabels():
        lab.set_fontweight("bold")
    ax.tick_params(axis="y", length=8.5, width=2.2)
    ax.tick_params(axis="x", which="major", length=9, width=2.4, pad=5.5, labelsize=14)
    ax.tick_params(axis="x", which="minor", length=6, width=2.4)
    for s in ("top", "right"):
        ax.spines[s].set_visible(False)
    for s in ("left", "bottom"):
        ax.spines[s].set_linewidth(3)
    ov.text((l + r) / 2, fdr_y, "FDR (-log10)", fontsize=14, fontweight="bold", ha="center", va="center")
    return ax


# ======================= volcano panels =======================
volcano(A_pts, (109.8, 428.8, 146.8, 345.8), (-7.5, 157.5), [0, 50, 100, 150], [25, 75, 125],
        volcano_titles[0], 45.3, 70.8, 109.2, 107.3, 384.5, 413.5, 54.4)
volcano(C_pts, (109.8, 428.8, 717.0, 916.0), (-5, 105), [0, 25, 50, 75, 100], [12.5, 37.5, 62.5, 87.5],
        volcano_titles[1], 615.0, 640.8, 109.2, 676.9, 955.0, 983.0, 55.0)
volcano(E_pts, (128.1, 456.9, 1276.2, 1475.6), (-3, 63), [0, 20, 40, 60], [10, 30, 50],
        volcano_titles[2], 1173.7, 1198.5, 132.2, 1235.4, 1513.5, 1542.7, 81.4)

# ======================= bar panels =======================
bar_panel((833.7, 1209.4, 16.8, 282.9), 30.5, 270.2, B_up_terms, B_up_fdr, B_up_fold, B_up_genes,
          B_up_kind, 16, [0, 5, 10, 15], 1, 318.6)
bar_panel((831.7, 1211.4, 343.4, 487.2), 356.8, 474.3, B_dn_terms, B_dn_fdr, B_dn_fold, B_dn_genes,
          B_dn_kind, 50, [0, 10, 20, 30, 40, 50], 2, 517.9)
bar_panel((831.6, 1211.7, 659.2, 762.3), 671.0, 748.6, D_up_terms, D_up_fdr, D_up_fold, D_up_genes,
          D_up_kind, 16, [0, 5, 10, 15], 1, 794.8)
bar_panel((831.6, 1214.3, 873.1, 918.0), 885.0, 904.8, D_dn_terms, D_dn_fdr, D_dn_fold, D_dn_genes,
          D_dn_kind, 16, [0, 5, 10, 15], 1, 950.7)
bar_panel((826.1, 1210.9, 1129.7, 1294.6), 1143.1, 1280.5, F_up_terms, F_up_fdr, F_up_fold, F_up_genes,
          F_up_kind, 50, [0, 10, 20, 30, 40, 50], 2, 1326.3)
bar_panel((841.3, 1218.5, 1358.1, 1526.2), 1371.8, 1513.5, F_dn_terms, F_dn_fdr, F_dn_fold, F_dn_genes,
          F_dn_kind, 16, [0, 5, 10, 15], 1, 1562.1)

# ======================= section titles, panel letters, separators =======================
for (xc, yc, s) in [(502, 163.0, "Upregulated"), (502, 423.5, "Downregulated"),
                    (499, 689.0, "Upregulated"), (501, 885.0, "Downregulated"),
                    (501, 1224.0, "Upregulated"), (502, 1473.0, "Downregulated")]:
    ov.text(xc, yc, s, fontsize=24.5, fontweight="bold", rotation=90, ha="center", va="center")

for (xl, yc, s) in [(42.2, 11.0, "A"), (447.0, 11.0, "B"), (42.5, 562.5, "C"), (460.5, 562.3, "D"),
                    (41.9, 1091.7, "E"), (460.5, 1091.7, "F")]:
    ov.text(xl, yc, s, fontsize=26, fontweight="bold", color="#262626", ha="left", va="center")

for ysep in (535.0, 1040.0):
    ov.plot([0, W_REF], [ysep, ysep], color="black", lw=3.4, solid_capstyle="butt")

fig.savefig("out.png", dpi=100, facecolor="white")
